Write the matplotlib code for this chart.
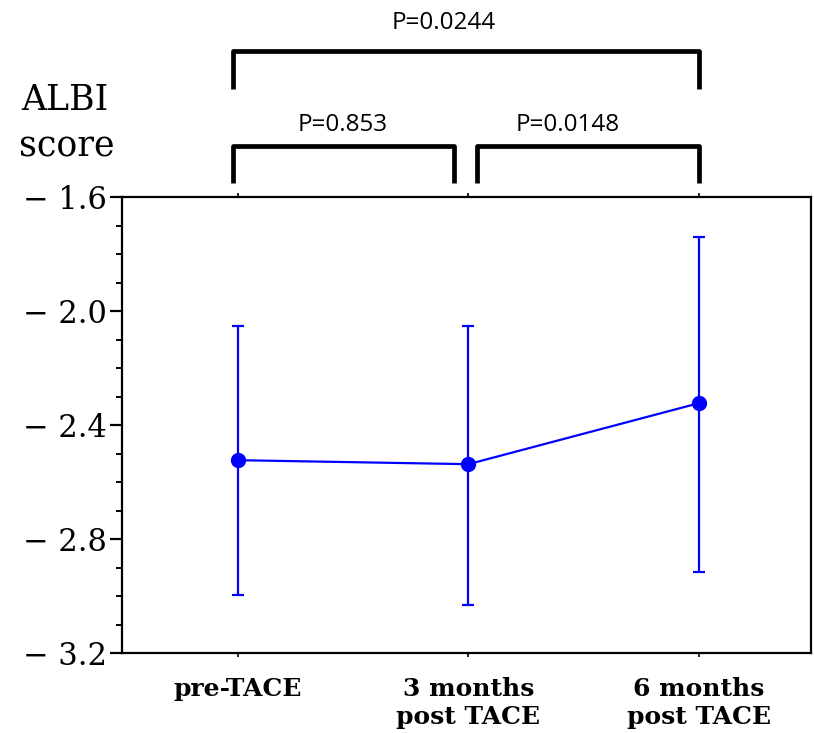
import numpy as np
import matplotlib.pyplot as plt
from matplotlib.ticker import MultipleLocator, FixedLocator
from matplotlib.transforms import blended_transform_factory

# ALBI score over time (mean and error bar limits)
groups = ["pre-TACE", "3 months\npost TACE", "6 months\npost TACE"]
albi_mean = [-2.523, -2.537, -2.323]
albi_upper = [-2.053, -2.053, -1.740]
albi_lower = [-2.996, -3.032, -2.916]

y_ticks = [-1.6, -2.0, -2.4, -2.8, -3.2]

# pairwise comparisons: (group i, group j, p-value text)
comparisons = [
    (0, 1, "P=0.853"),
    (1, 2, "P=0.0148"),
    (0, 2, "P=0.0244"),
]

fig = plt.figure(figsize=(8.14, 7.33), dpi=100)
ax = fig.add_axes([0.150, 0.109, 0.846, 0.622])

x = np.arange(len(groups))
mean = np.array(albi_mean)
yerr = [mean - np.array(albi_lower), np.array(albi_upper) - mean]

ax.errorbar(x, mean, yerr=yerr, color='#0000ff', marker='o', ms=10,
            lw=1.6, elinewidth=1.6, capsize=4.5, capthick=1.6)

ax.set_xlim(-0.503, 2.486)
ax.set_ylim(-3.2, -1.6)

ax.yaxis.set_major_locator(FixedLocator(y_ticks))
ax.yaxis.set_minor_locator(MultipleLocator(0.1))
ax.set_yticklabels(["\u2212 %.1f" % abs(v) for v in y_ticks],
                   family='DejaVu Serif', fontsize=22)
ax.tick_params(axis='y', which='major', length=9, width=1.6, pad=2)
ax.tick_params(axis='y', which='minor', length=4, width=1.4)

ax.set_xticks(x)
ax.set_xticklabels(groups, family='DejaVu Serif', fontsize=18,
                   fontweight='bold', linespacing=1.25)
ax.tick_params(axis='x', which='both', length=3, width=1.2, top=True,
               pad=14)

for sp in ax.spines.values():
    sp.set_linewidth(1.6)

# ALBI score label
fig.text(0.080, 0.864, "ALBI", family='DejaVu Serif', fontsize=25,
         ha='center', va='center')
fig.text(0.082, 0.800, "score", family='DejaVu Serif', fontsize=25,
         ha='center', va='center')

# significance brackets above the axes
trans = blended_transform_factory(ax.transData, ax.transAxes)
bracket_style = dict(color='black', lw=3.4, clip_on=False,
                     transform=trans, solid_capstyle='butt')
label_x = {"P=0.853": 0.455, "P=0.0148": 1.43, "P=0.0244": 0.894}
for i, j, label in comparisons:
    if j - i == 1:
        x0 = i - 0.022 if i == 0 else i + 0.037
        x1 = j - 0.063 if j == 1 else j
        y0, y1 = 1.031, 1.112
        ty = 1.158
    else:
        x0, x1 = i - 0.022, j
        y0, y1 = 1.237, 1.320
        ty = 1.382
    ax.plot([x0, x0, x1, x1], [y0, y1, y1, y0], **bracket_style)
    ax.text(label_x[label], ty, label, transform=trans, ha='center',
            va='center', fontsize=17.5, family='Open Sans')

fig.savefig("out.png", dpi=100)
